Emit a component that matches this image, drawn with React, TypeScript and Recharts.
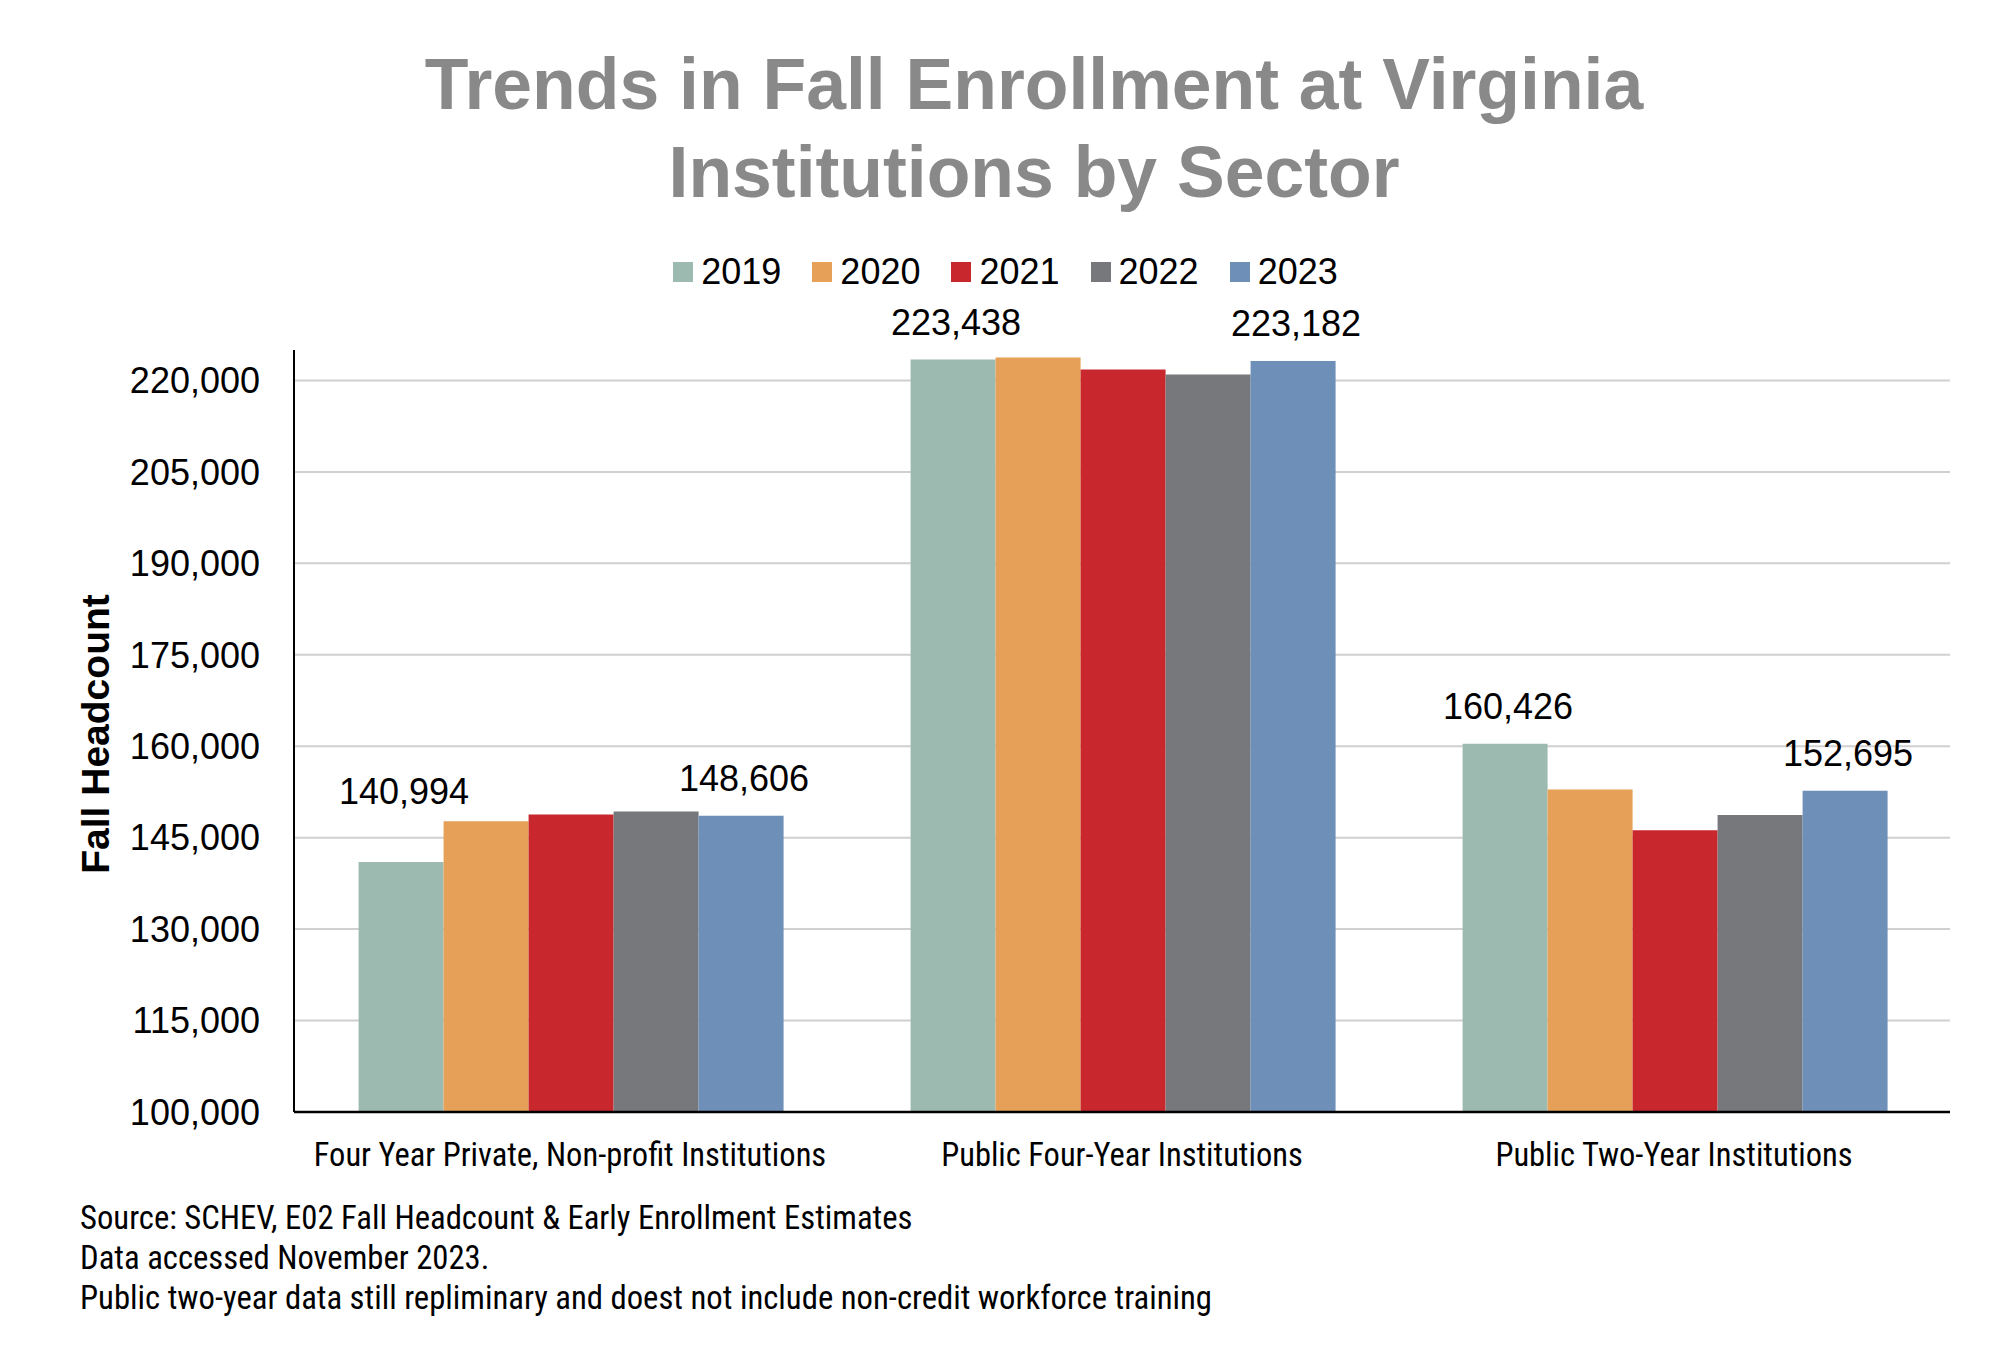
import { BarChart, Bar, XAxis, YAxis, CartesianGrid, Legend, LabelList } from "recharts";

const categories = [
  "Four Year Private, Non-profit Institutions",
  "Public Four-Year Institutions",
  "Public Two-Year Institutions",
];
const years = ["2019", "2020", "2021", "2022", "2023"];
const fall2019 = [140994, 223438, 160426];
const fall2020 = [147700, 223750, 152900];
const fall2021 = [148800, 221800, 146200];
const fall2022 = [149300, 221000, 148700];
const fall2023 = [148606, 223182, 152695];
const yearColors = ["#9cbaaf", "#e6a057", "#c8282d", "#77787c", "#6e8fb8"];
const yTicks = [100000, 115000, 130000, 145000, 160000, 175000, 190000, 205000, 220000];
const labelledYears = ["2019", "2023"];
const notes = [
  "Source: SCHEV, E02 Fall Headcount & Early Enrollment Estimates",
  "Data accessed November 2023.",
  "Public two-year data still repliminary and doest not include non-credit workforce training",
];

const series = [fall2019, fall2020, fall2021, fall2022, fall2023];
const data = categories.map((name, i) => {
  const row: Record<string, string | number> = { name };
  years.forEach((y, j) => {
    row[y] = series[j][i];
  });
  return row;
});

const sans = "'Liberation Sans', Arial, sans-serif";
const narrow = "'Roboto Condensed', 'Liberation Sans Narrow', sans-serif";
const fmt = (v: number) => Number(v).toLocaleString("en-US");

const renderLegend = (props: any) => (
  <div style={{ display: "flex", justifyContent: "center", paddingLeft: 11, fontFamily: sans, fontSize: 36, lineHeight: "40px", color: "#000" }}>
    {props.payload.map((p: any, i: number) => (
      <div key={p.value} style={{ display: "flex", alignItems: "center", marginRight: i < props.payload.length - 1 ? 31 : 0 }}>
        <span style={{ width: 20, height: 20, background: p.color, marginRight: 8, display: "inline-block" }} />
        <span>{p.value}</span>
      </div>
    ))}
  </div>
);

// value labels sit above the bar; the 2019 label is lifted over the taller 2020 bar next to it
const makeLabel = (year: string) => (props: any) => {
  const { x, y, width, height, value, index } = props;
  let top = y;
  if (year === "2019") {
    const next = fall2020[index];
    const perUnit = height / (value - 100000);
    if (next > value) top = Math.min(y, y - (next - value) * perUnit + 8);
  }
  return (
    <text x={x + width / 2 + 3} y={top - 25} textAnchor="middle" fill="#000" fontSize={36} fontFamily={sans}>
      {fmt(value)}
    </text>
  );
};

export default function App() {
  return (
    <div style={{ position: "absolute", left: 0, top: 0, width: 2000, height: 1351, background: "#fff" }}>
      <div
        style={{
          position: "absolute",
          left: 1034,
          top: 40,
          transform: "translateX(-50%)",
          textAlign: "center",
          whiteSpace: "nowrap",
          fontFamily: sans,
          fontWeight: "bold",
          fontSize: 71.5,
          lineHeight: "88px",
          color: "#898989",
        }}
      >
        Trends in Fall Enrollment at Virginia
        <br />
        Institutions by Sector
      </div>

      <BarChart
        width={2000}
        height={1351}
        data={data}
        margin={{ top: 350, right: 50, bottom: 179, left: 0 }}
        barCategoryGap="11.7%"
        barGap={0}
      >
        <CartesianGrid vertical={false} horizontalValues={yTicks} stroke="#d0d0d0" strokeWidth={2} />
        <XAxis
          dataKey="name"
          height={60}
          tickLine={false}
          tickSize={0}
          tickMargin={31}
          axisLine={{ stroke: "#000", strokeWidth: 2.5 }}
          tick={{ fill: "#000", fontSize: 32.5, fontFamily: narrow }}
        />
        <YAxis
          width={294}
          domain={[100000, 225000]}
          ticks={yTicks}
          tickFormatter={fmt}
          tickLine={false}
          tickSize={0}
          tickMargin={34}
          axisLine={{ stroke: "#000", strokeWidth: 2 }}
          tick={{ fill: "#000", fontSize: 36, fontFamily: sans }}
          allowDataOverflow
        />
        <Legend verticalAlign="middle" content={renderLegend} wrapperStyle={{ top: 252, left: 0, width: 2000 }} />
        {years.map((y, j) => (
          <Bar key={y} dataKey={y} fill={yearColors[j]} isAnimationActive={false}>
            {labelledYears.includes(y) && <LabelList dataKey={y} content={makeLabel(y)} />}
          </Bar>
        ))}
      </BarChart>

      <div
        style={{
          position: "absolute",
          left: 96,
          top: 734,
          transform: "translate(-50%, -50%) rotate(-90deg)",
          whiteSpace: "nowrap",
          fontFamily: sans,
          fontWeight: "bold",
          fontSize: 39,
          color: "#000",
        }}
      >
        Fall Headcount
      </div>

      <div style={{ position: "absolute", left: 80, top: 1198, fontFamily: narrow, fontSize: 32.7, lineHeight: "40px", color: "#000" }}>
        {notes.map((n) => (
          <div key={n}>{n}</div>
        ))}
      </div>
    </div>
  );
}
